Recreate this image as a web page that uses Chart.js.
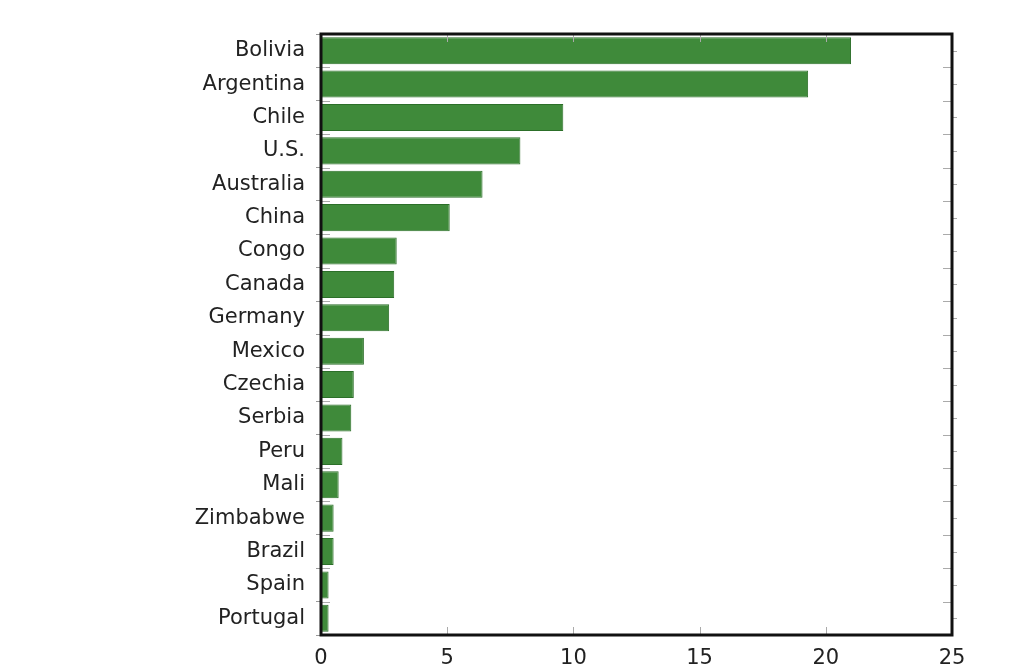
<!DOCTYPE html>
<html>
<head>
<meta charset="utf-8">
<script src="https://cdn.jsdelivr.net/npm/chart.js@4"></script>
<style>
  html, body { margin: 0; padding: 0; background: #fff; }
  #wrap { width: 1024px; height: 670px; }
</style>
</head>
<body>
<div id="wrap"><canvas id="bars-chart" width="1024" height="670"></canvas></div>
<script>
const countries = ["Bolivia", "Argentina", "Chile", "U.S.", "Australia", "China", "Congo", "Canada", "Germany",
    "Mexico", "Czechia", "Serbia", "Peru", "Mali", "Zimbabwe", "Brazil", "Spain", "Portugal"];
const values = [21.0, 19.3, 9.6, 7.9, 6.4, 5.1, 3.0, 2.9, 2.7, 1.7, 1.3, 1.2, 0.85, 0.7, 0.5, 0.5, 0.3, 0.3];
const xTicks = [0, 5, 10, 15, 20, 25];

// frame + small inner ticks, like the original plot box
const framePlugin = {
    id: 'frame',
    afterDraw(chart) {
        const ctx = chart.ctx;
        const area = chart.chartArea;
        const xs = chart.scales.x;
        const ys = chart.scales.y;
        ctx.save();
        ctx.strokeStyle = '#aaaaaa';
        ctx.lineWidth = 1;
        // x ticks inside top and bottom
        for (const t of xTicks.slice(1, -1)) {
            const px = Math.round(xs.getPixelForValue(t)) + 0.5;
            ctx.beginPath();
            ctx.moveTo(px, area.bottom); ctx.lineTo(px, area.bottom - 8);
            ctx.moveTo(px, area.top); ctx.lineTo(px, area.top + 8);
            ctx.stroke();
        }
        // category boundary ticks inside left and right, center ticks outside right
        for (let i = 0; i < countries.length; i++) {
            const py = Math.round(ys.getPixelForValue(i + 0.5)) + 0.5;
            if (i < countries.length - 1) {
                ctx.beginPath();
                ctx.moveTo(area.left, py); ctx.lineTo(area.left + 9, py);
                ctx.moveTo(area.right, py); ctx.lineTo(area.right - 9, py);
                ctx.stroke();
            }
            const pc = Math.round(ys.getPixelForValue(i)) + 0.5;
            ctx.beginPath();
            ctx.moveTo(area.right, pc); ctx.lineTo(area.right + 5, pc);
            ctx.stroke();
        }
        ctx.strokeStyle = '#111111';
        ctx.lineWidth = 3;
        ctx.strokeRect(area.left, area.top, area.right - area.left, area.bottom - area.top);
        ctx.restore();
    }
};

const ctx = document.getElementById('bars-chart');

const chart = new Chart(ctx, {
    type: 'bar',
    data: {
        labels: countries,
        datasets: [{
            data: values,
            backgroundColor: '#3f8a3a',
            borderColor: '#2c6f29',
            borderWidth: 1,
            barPercentage: 0.81,
            categoryPercentage: 1.0
        }]
    },
    options: {
        indexAxis: 'y',
        responsive: false,
        animation: false,
        layout: {
            padding: { top: 34, right: 72, left: 0, bottom: 0 }
        },
        scales: {
            x: {
                min: 0,
                max: 25,
                afterBuildTicks: (scale) => { scale.ticks = xTicks.map(v => ({ value: v })); },
                afterFit: (scale) => { scale.height = 35; },
                grid: { display: false, drawTicks: false },
                border: { display: false },
                ticks: {
                    color: '#222222',
                    padding: 11,
                    maxRotation: 0,
                    font: { family: 'DejaVu Sans, sans-serif', size: 21 }
                }
            },
            y: {
                afterFit: (scale) => { scale.width = 321; },
                grid: {
                    drawOnChartArea: false,
                    drawTicks: true,
                    tickLength: 5,
                    color: '#999999'
                },
                border: { display: false },
                ticks: {
                    color: '#222222',
                    padding: 11,
                    autoSkip: false,
                    font: { family: 'DejaVu Sans, sans-serif', size: 21 }
                }
            }
        },
        plugins: {
            legend: { display: false },
            tooltip: { enabled: false }
        }
    },
    plugins: [framePlugin]
});
</script>
</body>
</html>
